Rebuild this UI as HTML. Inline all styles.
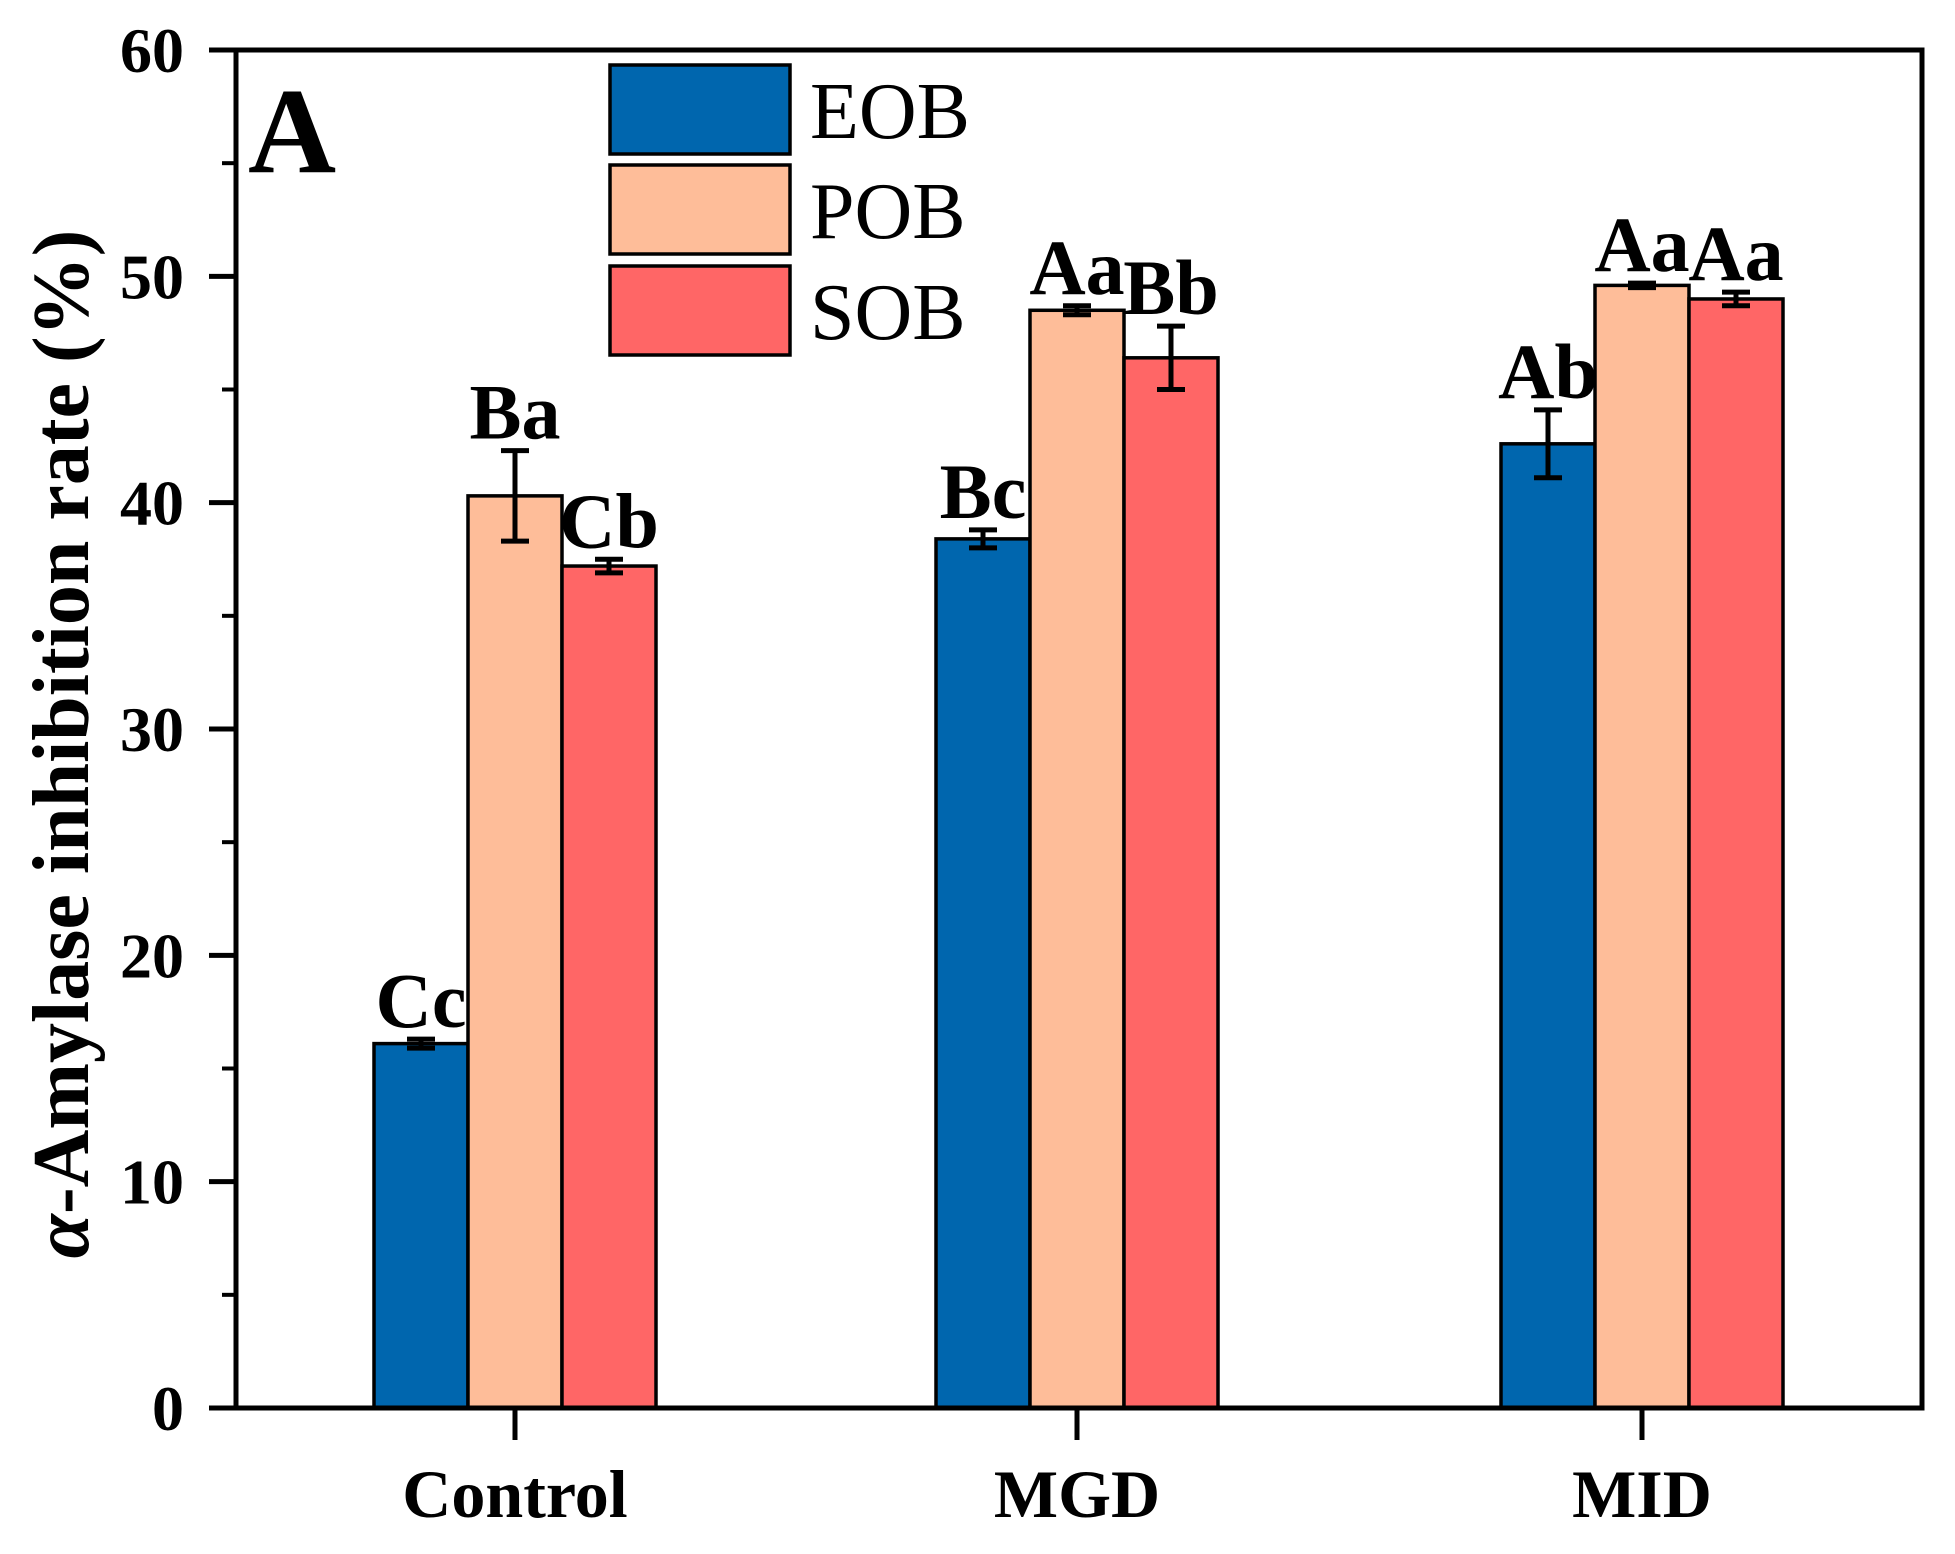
<!DOCTYPE html>
<html><head><meta charset="utf-8"><style>
html,body{margin:0;padding:0;background:#fff}
svg text{font-family:"Liberation Serif",serif}
</style></head><body>
<svg id="chart" width="1955" height="1549" xmlns="http://www.w3.org/2000/svg"></svg>
<script>
const categories=["Control","MGD","MID"];
const seriesNames=["EOB","POB","SOB"];
const eobValues=[16.1,38.4,42.6];
const pobValues=[40.3,48.5,49.6];
const sobValues=[37.2,46.4,49.0];
const eobErrors=[0.2,0.4,1.5];
const pobErrors=[2.0,0.2,0.1];
const sobErrors=[0.3,1.4,0.3];
const eobLetters=["Cc","Bc","Ab"];
const pobLetters=["Ba","Aa","Aa"];
const sobLetters=["Cb","Bb","Aa"];
const yTicks=[0,10,20,30,40,50,60];

const colors=["#0066AE","#FEBD99","#FF6666"];
const NS="http://www.w3.org/2000/svg";
const svg=document.getElementById('chart');
const L=236,R=1922,T=50,B=1408,yMax=60;
const groupCenters=[515,1077,1642];
const bw=94;
function y(v){return B-(v/yMax)*(B-T);}
function xc(gi){return groupCenters[gi];}
function mk(tag,attrs,text){const e=document.createElementNS(NS,tag);for(const k in attrs)e.setAttribute(k,attrs[k]);if(text!==undefined)e.textContent=text;svg.appendChild(e);return e;}

const vals=[eobValues,pobValues,sobValues],errs=[eobErrors,pobErrors,sobErrors],lets=[eobLetters,pobLetters,sobLetters];
categories.forEach((c,gi)=>{
  for(let s=0;s<3;s++){
    const x0=xc(gi)+(s-1.5)*bw;
    const v=vals[s][gi],e=errs[s][gi];
    const r=mk('rect',{x:x0,y:y(v),width:bw,height:B-y(v),fill:colors[s],stroke:'#000','stroke-width':3.5});
    
    
    const cx=x0+bw/2;
    const eb=mk('path',{d:`M${cx},${y(v+e)}V${y(v-e)}M${cx-14},${y(v+e)}H${cx+14}M${cx-14},${y(v-e)}H${cx+14}`,stroke:'#000','stroke-width':5,fill:'none'});
    
    
    const t=mk('text',{x:cx,y:y(v+e)-12,'text-anchor':'middle','font-size':78,'font-weight':'bold'},lets[s][gi]);
    
    
  }
  const tk=mk('line',{x1:xc(gi),x2:xc(gi),y1:B,y2:B+32,stroke:'#000','stroke-width':5});
  
  
  const tl=mk('text',{x:xc(gi),y:1517,'text-anchor':'middle','font-size':68,'font-weight':'bold'},c);
  
  
});
yTicks.forEach((v,i)=>{
  const t=mk('line',{x1:L-27,x2:L,y1:y(v),y2:y(v),stroke:'#000','stroke-width':5});
  
  
  if(i<yTicks.length-1){
    const m=mk('line',{x1:L-14,x2:L,y1:y(v+5),y2:y(v+5),stroke:'#000','stroke-width':4});
    
    
  }
  const l=mk('text',{x:184,y:y(v)+22,'text-anchor':'end','font-size':64,'font-weight':'bold'},String(v));
  
  
});
const frame=mk('rect',{x:L,y:T,width:R-L,height:B-T,fill:'none',stroke:'#000','stroke-width':5});


const yt=mk('text',{x:0,y:0,transform:`translate(88,${(T+B)/2+15}) rotate(-90)`,'text-anchor':'middle','font-size':80,'font-weight':'bold'});


yt.innerHTML='<tspan font-style="italic">α</tspan>-Amylase inhibition rate (%)';
const pl=mk('text',{x:248,y:172,'font-size':122,'font-weight':'bold'},'A');


const legY=[65,165,266];
seriesNames.forEach((n,s)=>{
  const r=mk('rect',{x:610,y:legY[s],width:180,height:89,fill:colors[s],stroke:'#000','stroke-width':3.5});
  
  
  const t=mk('text',{x:810,y:legY[s]+73,'font-size':80},n);
  
  
});
</script>
</body></html>
